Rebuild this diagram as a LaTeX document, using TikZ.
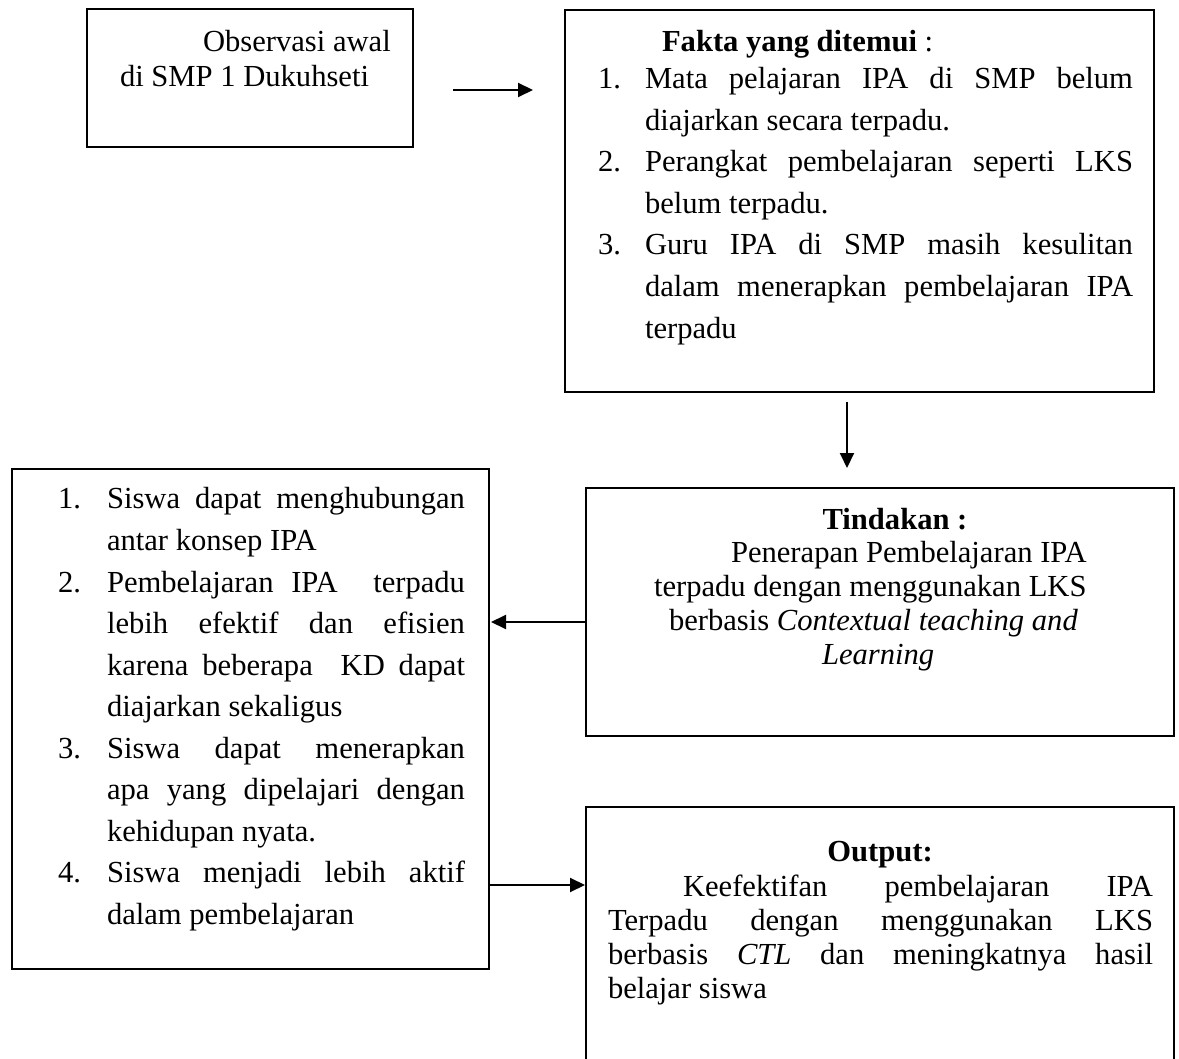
\documentclass[tikz,border=0pt]{standalone}
\usepackage{fontspec}
\setmainfont{Liberation Serif}
\usetikzlibrary{arrows.meta}
\newlength\upx
\setlength\upx{0.5pt}
% justified line of given width (in picture units)
\newcommand\jline[2]{\makebox[#1\upx][s]{#2}}
\begin{document}
\begin{tikzpicture}[x=0.5pt,y=-0.5pt,
  box/.style={draw=black,line width=0.8pt},
  txt/.style={anchor=base west,inner sep=0pt,outer sep=0pt,
    font=\fontsize{15.3}{18}\selectfont},
  ctxt/.style={anchor=base,inner sep=0pt,outer sep=0pt,
    font=\fontsize{15.3}{18}\selectfont},
  arr/.style={line width=1pt,-{Triangle[length=7.5pt,width=7pt]}}]
\useasboundingbox (0,0) rectangle (1179,1059);

% boxes
\draw[box] (87,9) rectangle (413,147);
\draw[box] (565,10) rectangle (1154,392);
\draw[box] (586,488) rectangle (1174,736);
\draw[box] (12,469) rectangle (489,969);
\draw[box] (586,1080) -- (586,807) -- (1174,807) -- (1174,1080);

% named ends of the boxes used by the connectors
\coordinate (obsE) at (453,90);
\coordinate (faktaW) at (533,90);
\coordinate (faktaS) at (847,402);
\coordinate (tindN) at (847,468);
\coordinate (tindW) at (585,622);
\coordinate (hasilE) at (491,622);
\coordinate (hasilE2) at (489,885);
\coordinate (outW) at (585,885);

% Observasi awal
\node[txt] (o1) at (203,52) {Observasi awal};
\node[txt] (o2) at (120,87) {di SMP 1 Dukuhseti};

% Fakta yang ditemui
\node[txt] (f0) at (662,52) {\textbf{Fakta yang ditemui} :};
\node[txt] (fn1) at (598,89) {1.};
\node[txt] (f1) at (645,89) {\jline{488}{Mata pelajaran IPA di SMP belum}};
\node[txt] (f2) at (645,131) {diajarkan secara terpadu.};
\node[txt] (fn2) at (598,172) {2.};
\node[txt] (f3) at (645,172) {\jline{488}{Perangkat pembelajaran seperti LKS}};
\node[txt] (f4) at (645,214) {belum terpadu.};
\node[txt] (fn3) at (598,255) {3.};
\node[txt] (f5) at (645,255) {\jline{488}{Guru IPA di SMP masih kesulitan}};
\node[txt] (f6) at (645,297) {\jline{488}{dalam menerapkan pembelajaran IPA}};
\node[txt] (f7) at (645,339) {terpadu};

% Tindakan
\node[ctxt] (t0) at (895,529) {\textbf{Tindakan :}};
\node[txt] (t1) at (731,562) {Penerapan Pembelajaran IPA};
\node[txt] (t2) at (654,596) {terpadu dengan menggunakan LKS};
\node[txt] (t3) at (669,630) {berbasis \textit{Contextual teaching and}};
\node[txt] (t4) at (822,664) {\textit{Learning}};

% hasil list
\node[txt] (hn1) at (58,509) {1.};
\node[txt] (h1) at (107,509) {\jline{358}{Siswa dapat menghubungan}};
\node[txt] (h2) at (107,550) {antar konsep IPA};
\node[txt] (hn2) at (58,592) {2.};
\node[txt] (h3) at (107,592) {\jline{358}{Pembelajaran IPA \ terpadu}};
\node[txt] (h4) at (107,633) {\jline{358}{lebih efektif dan efisien}};
\node[txt] (h5) at (107,675) {\jline{358}{karena beberapa \ KD dapat}};
\node[txt] (h6) at (107,716) {diajarkan sekaligus};
\node[txt] (hn3) at (58,758) {3.};
\node[txt] (h7) at (107,758) {\jline{358}{Siswa dapat menerapkan}};
\node[txt] (h8) at (107,799) {\jline{358}{apa yang dipelajari dengan}};
\node[txt] (h9) at (107,841) {kehidupan nyata.};
\node[txt] (hn4) at (58,882) {4.};
\node[txt] (h10) at (107,882) {\jline{358}{Siswa menjadi lebih aktif}};
\node[txt] (h11) at (107,924) {dalam pembelajaran};

% Output
\node[ctxt] (u0) at (880,861) {\textbf{Output:}};
\node[txt] (u1) at (683,896) {\jline{470}{Keefektifan pembelajaran IPA}};
\node[txt] (u2) at (608,930) {\jline{545}{Terpadu dengan menggunakan LKS}};
\node[txt] (u3) at (608,964) {\jline{545}{berbasis \textit{CTL} dan meningkatnya hasil}};
\node[txt] (u4) at (608,998) {belajar siswa};

% connectors
\draw[arr] (obsE) -- (faktaW);
\draw[arr] (faktaS) -- (tindN);
\draw[arr] (tindW) -- (hasilE);
\draw[arr] (hasilE2) -- (outW);
\end{tikzpicture}
\end{document}
